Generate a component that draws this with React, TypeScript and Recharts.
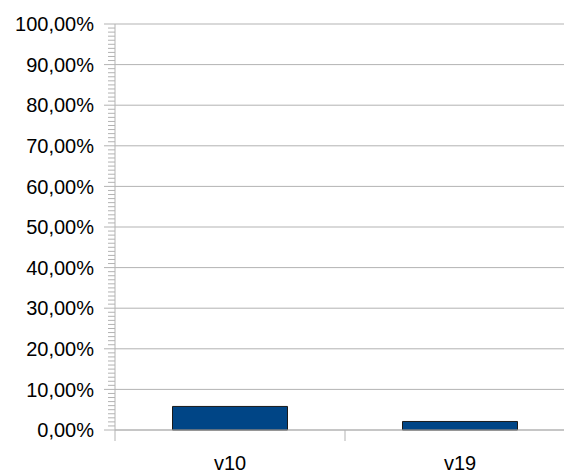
import { BarChart, Bar, XAxis, YAxis, CartesianGrid } from "recharts";

const categories = ["v10", "v19"];
const shares = [5.8, 2.1];
const yTicks = [0, 10, 20, 30, 40, 50, 60, 70, 80, 90, 100];
const minorTicks = Array.from({ length: 101 }, (_, i) => i);

const data = categories.map((name, i) => ({ name, value: shares[i] }));

const fmtPct = (v: number) => `${v.toFixed(2).replace(".", ",")}%`;

const axisColor = "#b3b3b3";
const fontFamily = "'Liberation Sans', Arial, sans-serif";

function YTick(props: any) {
  const { x, y, payload } = props;
  const v = payload.value;
  const major = v % 10 === 0;
  return (
    <g>
      <line x1={x - (major ? 11 : 7)} x2={x} y1={y} y2={y} stroke={axisColor} />
      {major && (
        <text
          x={x - 21}
          y={y}
          dy="0.355em"
          textAnchor="end"
          fontSize={20}
          fontFamily={fontFamily}
          fill="#000"
        >
          {fmtPct(v)}
        </text>
      )}
    </g>
  );
}

function XTick(props: any) {
  const { x, y, payload, width, visibleTicksCount, index } = props;
  const band = width / visibleTicksCount;
  const left = x - band / 2;
  return (
    <g>
      <line x1={left} x2={left} y1={y} y2={y + 11} stroke={axisColor} />
      {index === visibleTicksCount - 1 && (
        <line x1={left + band} x2={left + band} y1={y} y2={y + 11} stroke={axisColor} />
      )}
      <text
        x={x}
        y={y + 26}
        dy="0.71em"
        textAnchor="middle"
        fontSize={20}
        fontFamily={fontFamily}
        fill="#000"
      >
        {payload.value}
      </text>
    </g>
  );
}

export default function App() {
  return (
    <div
      style={{
        position: "fixed",
        left: 0,
        top: 0,
        width: 564,
        height: 473,
        overflow: "hidden",
        background: "#fff",
      }}
    >
      <BarChart
        width={580}
        height={473}
        data={data}
        margin={{ top: 24, right: 5, bottom: 0, left: 0 }}
        barCategoryGap="25%"
      >
        <CartesianGrid vertical={false} stroke={axisColor} horizontalValues={yTicks} />
        <XAxis
          dataKey="name"
          height={43}
          tickLine={false}
          tickSize={0}
          tickMargin={0}
          axisLine={{ stroke: axisColor }}
          tick={<XTick />}
        />
        <YAxis
          domain={[0, 100]}
          ticks={minorTicks}
          interval={0}
          width={115}
          tickSize={0}
          tickMargin={0}
          tickLine={false}
          axisLine={{ stroke: axisColor }}
          tick={<YTick />}
        />
        <Bar
          dataKey="value"
          fill="#004586"
          stroke="#1a1a1a"
          strokeWidth={1}
          isAnimationActive={false}
        />
      </BarChart>
    </div>
  );
}
